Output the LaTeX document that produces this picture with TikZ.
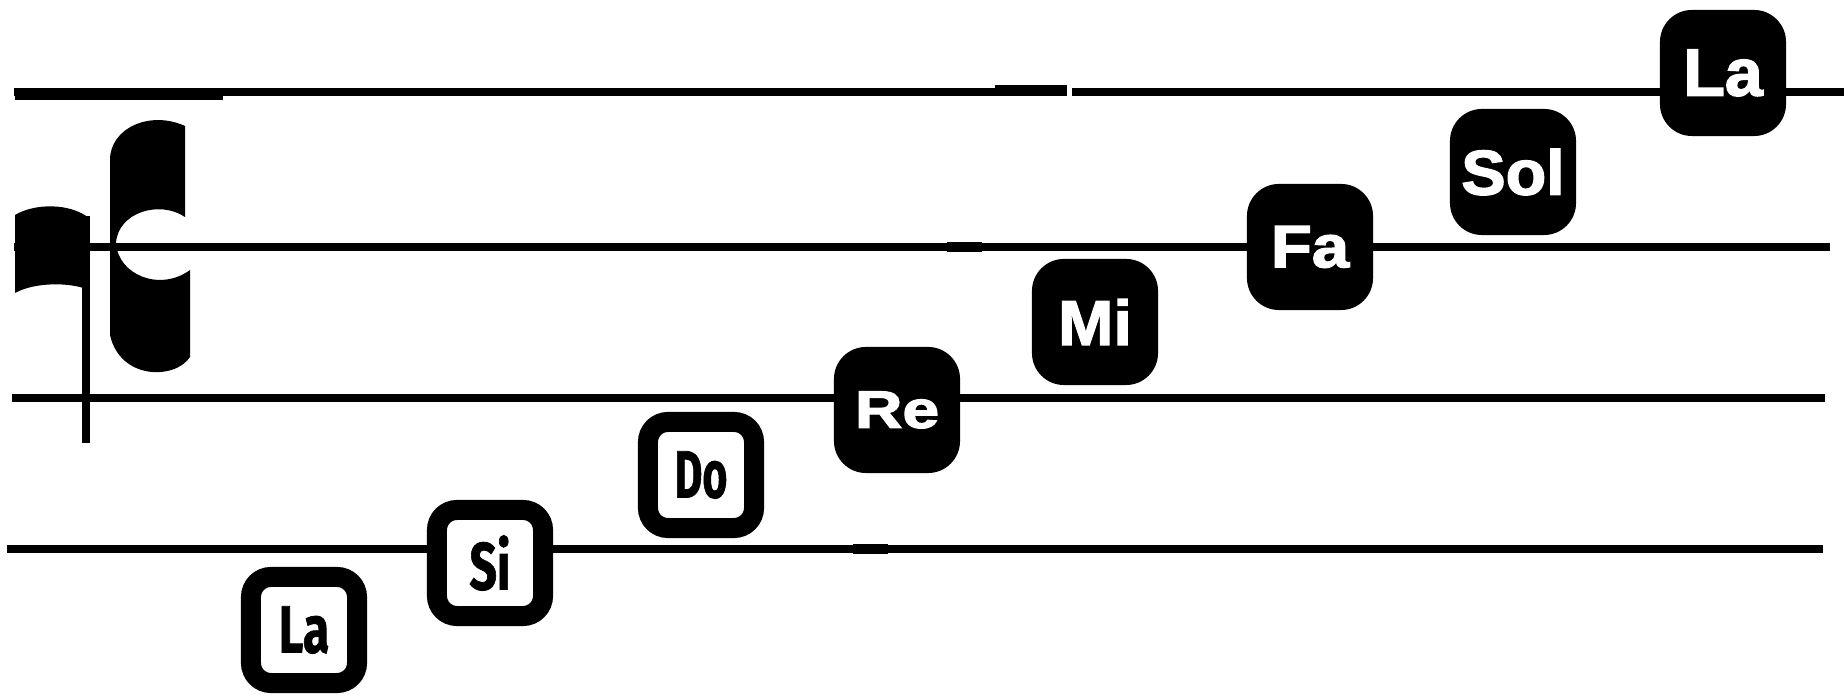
\documentclass[tikz,border=0pt]{standalone}
\usepackage{fontspec}
\usepackage{graphicx}
\usepackage{tikz}
\usetikzlibrary{positioning}
\newfontfamily\blackfont[FakeBold=2.2]{Liberation Sans}
\newfontfamily\whitefont[FakeBold=1.2]{Fira Sans}
\newcommand{\wnote}[2][0.72]{\scalebox{#1}[1]{#2}}
\newcommand{\bnote}[2][1.1]{\scalebox{#1}[1]{#2}}
\tikzset{
  staffline/.style={line width=0.085cm},
  whitenote/.style={draw=black, fill=white, line width=0.2cm, rounded corners=0.2cm,
    minimum size=1.06cm, inner sep=0pt, font=\whitefont\bfseries\fontsize{19}{19}\selectfont},
  blacknote/.style={fill=black, text=white, rounded corners=0.32cm,
    minimum size=1.26cm, inner sep=0pt, font=\blackfont\bfseries\fontsize{18}{18}\selectfont}
}
\begin{document}
\begin{tikzpicture}[x=0.01cm, y=-0.01cm]
\useasboundingbox (0,0) rectangle (1844,695);
% staff
\draw[staffline] (14,92) -- (1067,92);
\draw[staffline] (1072,92) -- (1844,92);
\draw[line width=0.12cm] (15,94) -- (223,94);
\draw[line width=0.1cm] (995,90) -- (1067,90);
\draw[staffline] (14,247) -- (1830,247);
\draw[line width=0.1cm] (947,247) -- (982,247);
\draw[staffline] (12,398) -- (1825,398);
\draw[staffline] (7,549) -- (1823,549);
\draw[line width=0.1cm] (853,549) -- (888,549);
% clef
\fill (15,215) .. controls (35,203) and (70,203) .. (89,218) -- (89,290)
  .. controls (70,282) and (35,282) .. (15,293) -- cycle;
\draw[line width=0.08cm] (86,216) -- (86,443);
\fill (110,160) .. controls (110,128) and (150,110) .. (185,126) -- (185,217)
  .. controls (160,200) and (118,212) .. (116,243)
  .. controls (118,275) and (160,292) .. (190,270) -- (190,357)
  .. controls (175,380) and (120,380) .. (110,335) -- cycle;
% notes
\node[whitenote] (lalow) at (304,630) {\wnote{La}};
\node[whitenote] (si) at (490,563) {\wnote{Si}};
\node[whitenote] (do) at (701,475) {\wnote[0.64]{Do}};
\node[blacknote, font=\blackfont\bfseries\fontsize{15}{15}\selectfont] (re) at (897,410) {\bnote[1.25]{Re}};
\node[blacknote] (mi) at (1095,322) {\bnote[1.05]{Mi}};
\node[blacknote, font=\blackfont\bfseries\fontsize{17}{17}\selectfont] (fa) at (1310,247) {\bnote[1.12]{Fa}};
\node[blacknote] (sol) at (1513,172) {\bnote[1.05]{Sol}};
\node[blacknote, font=\blackfont\bfseries\fontsize{19}{19}\selectfont] (lahigh) at (1723,73) {\bnote[1.02]{La}};
\end{tikzpicture}
\end{document}
